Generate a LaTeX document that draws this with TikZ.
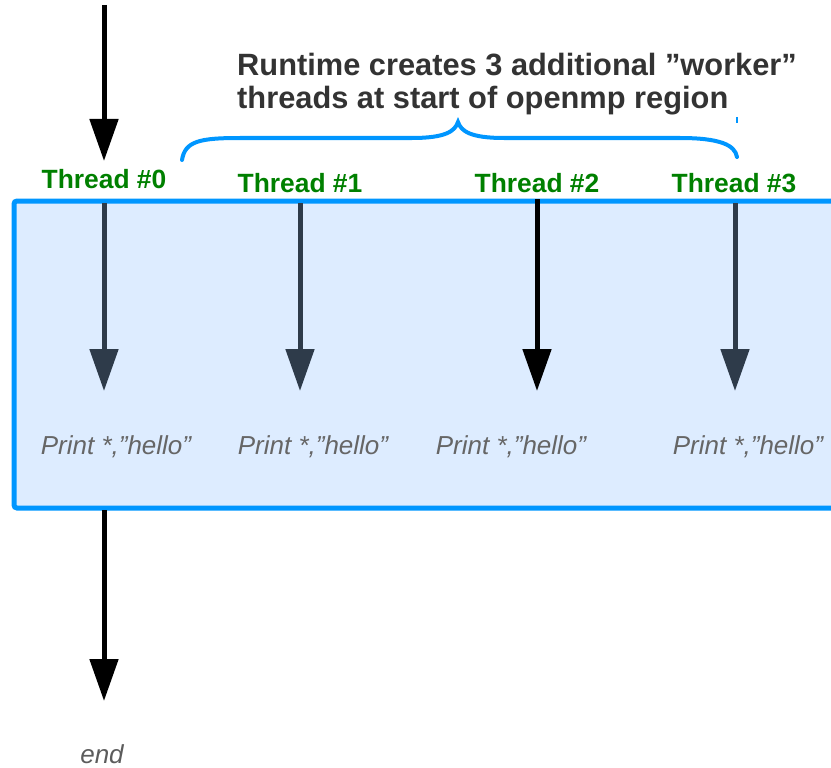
\documentclass[tikz,border=0pt]{standalone}
\usepackage{fontspec}
\setmainfont{Liberation Sans}
\usetikzlibrary{arrows.meta}
\definecolor{thgreen}{RGB}{0,128,0}
\definecolor{brblue}{RGB}{0,150,255}
\definecolor{boxfill}{RGB}{221,236,255}
\definecolor{slate}{RGB}{46,59,74}
\definecolor{titlegray}{RGB}{51,51,51}
\definecolor{printgray}{RGB}{102,102,102}
\tikzset{
  flow/.style={line width=5pt,-{Triangle[length=42pt,width=28pt]}},
  thlabel/.style={font=\bfseries\fontsize{26.4}{30}\selectfont,text=thgreen,inner sep=0pt},
  printtxt/.style={font=\itshape\fontsize{26}{30}\selectfont,text=printgray,inner sep=0pt},
}
\begin{document}
\begin{tikzpicture}[x=1pt,y=-1pt]
\useasboundingbox (0,0) rectangle (831,768);
% parallel region box
\draw[brblue,line width=5pt,fill=boxfill,rounded corners=3pt] (14,201) rectangle (845,508);
% title
\node[anchor=west,align=left,inner sep=0pt,text=titlegray,font=\bfseries\fontsize{30.8}{33}\selectfont] (title) at (237,84) {Runtime creates 3 additional ”worker”\\threads at start of openmp region};
% brace
\draw[brblue,line width=4pt,line cap=round] (182,160) .. controls (185,141) and (200,138) .. (240,138) -- (412,138) .. controls (446,138) and (455,131) .. (458,122) .. controls (461,131) and (470,138) .. (504,138) -- (680,138) .. controls (720,138) and (735,145) .. (737,157);
\draw[brblue,line width=2pt] (737,117) -- (737,123);
% thread labels
\node[thlabel] (t0) at (104,179) {Thread \#0};
\node[thlabel] (t1) at (300,183) {Thread \#1};
\node[thlabel] (t2) at (537,183) {Thread \#2};
\node[thlabel] (t3) at (734,183) {Thread \#3};
% coordinates
\coordinate (start) at (104,5);
\coordinate (a0) at (104,161);
\coordinate (s0) at (104,203);
\coordinate (s1) at (300,203);
\coordinate (s2) at (537,199);
\coordinate (s3) at (735,203);
\coordinate (e0) at (104,391);
\coordinate (e1) at (300,391);
\coordinate (e2) at (537,391);
\coordinate (e3) at (735,391);
\coordinate (b0) at (104,510);
\coordinate (b1) at (104,701);
% arrows
\draw[flow,black] (start) -- (a0);
\draw[flow,slate] (s0) -- (e0);
\draw[flow,slate] (s1) -- (e1);
\draw[flow,black] (s2) -- (e2);
\draw[flow,slate] (s3) -- (e3);
\draw[flow,black] (b0) -- (b1);
% print texts
\node[printtxt] (p0) at (116,447) {Print *,”hello”};
\node[printtxt] (p1) at (313,447) {Print *,”hello”};
\node[printtxt] (p2) at (511,447) {Print *,”hello”};
\node[printtxt] (p3) at (748,447) {Print *,”hello”};
\node[printtxt,text=titlegray!80] (end) at (102,754) {end};
\end{tikzpicture}
\end{document}
